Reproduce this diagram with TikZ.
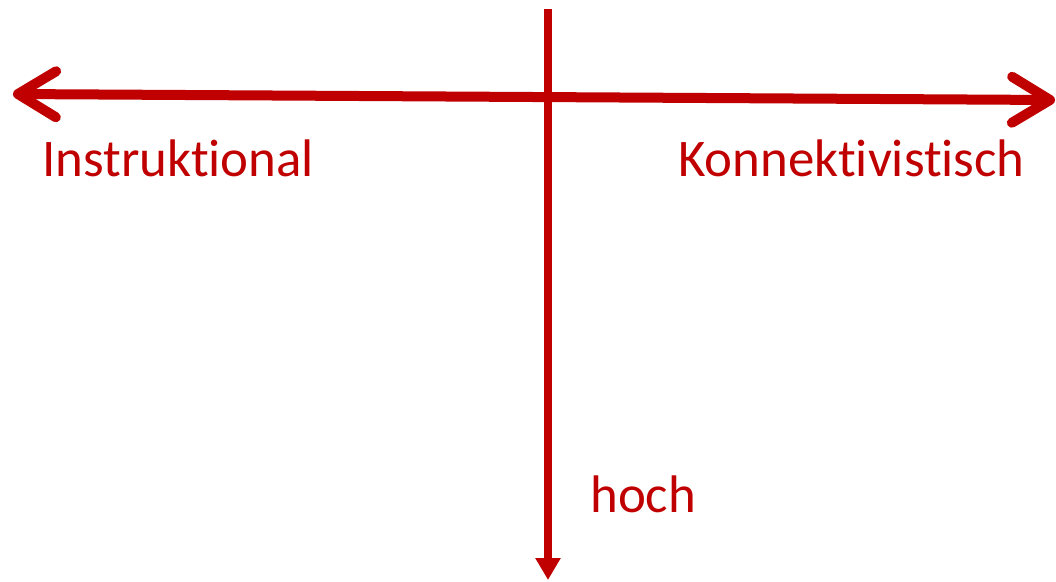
\documentclass[tikz,border=0pt]{standalone}
\usepackage{fontspec}
\setmainfont{Carlito}[Ligatures=NoCommon]
\usetikzlibrary{arrows.meta,positioning}
\definecolor{axisred}{HTML}{C00000}

\begin{document}
\begin{tikzpicture}[
  x=0.025cm, y=-0.025cm,
  lbl/.style={text=axisred,font=\fontsize{37.6}{40}\selectfont,inner sep=0pt},
  haxis/.style={draw=axisred,line width=0.25cm,
    {Straight Barb[round,length=0.95cm,width=1.15cm]}-{Straight Barb[round,length=0.95cm,width=1.15cm]}},
  vaxis/.style={draw=axisred,line width=0.2cm,-{Triangle[length=0.55cm,width=0.6cm]}}
]
\useasboundingbox (0,0) rectangle (1056,581);
\coordinate (west) at (13,94);
\coordinate (east) at (1055,100);
\coordinate (top) at (548,9);
\coordinate (bottom) at (548,580);
\draw[vaxis] (top) -- (bottom);
\draw[haxis] (west) -- (east);
\node[lbl,anchor=base west] (instr) at (42,176) {Instruktional};
\node[lbl,anchor=base east] (konn) at (1025,176) {Konnektivistisch};
\node[lbl,anchor=base west] (hoch) at (590,512) {hoch};
\end{tikzpicture}
\end{document}
